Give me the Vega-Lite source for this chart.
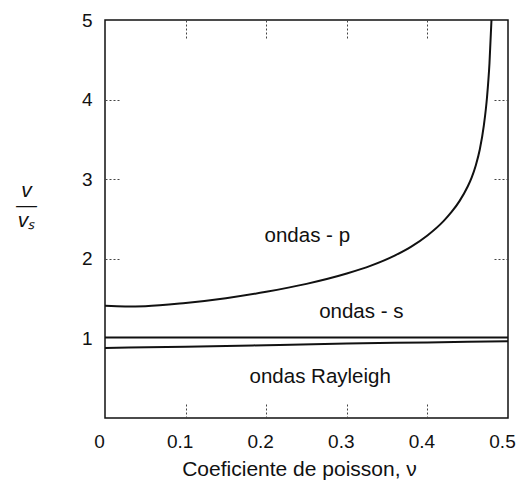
{
  "$schema": "https://vega.github.io/schema/vega-lite/v6.json",
  "width": 403,
  "height": 398,
  "autosize": {"type": "none"},
  "padding": {"left": 105, "top": 20, "right": 12, "bottom": 62},
  "config": {
    "font": "Liberation Sans",
    "view": {"stroke": "#111", "strokeWidth": 1.5},
    "axis": {"domain": false, "grid": false, "labelColor": "#111", "titleColor": "#111", "titleFontWeight": "normal", "tickColor": "#444", "tickDash": [2, 2], "tickWidth": 1, "labelFlush": false}
  },
  "datasets": {
    "curves": [
      {"nu": 0.0, "r": 1.41, "wave": "p"},
      {"nu": 0.025, "r": 1.402, "wave": "p"},
      {"nu": 0.05, "r": 1.405, "wave": "p"},
      {"nu": 0.1, "r": 1.445, "wave": "p"},
      {"nu": 0.15, "r": 1.505, "wave": "p"},
      {"nu": 0.2, "r": 1.585, "wave": "p"},
      {"nu": 0.25, "r": 1.685, "wave": "p"},
      {"nu": 0.3, "r": 1.815, "wave": "p"},
      {"nu": 0.33, "r": 1.914, "wave": "p"},
      {"nu": 0.36, "r": 2.043, "wave": "p"},
      {"nu": 0.38, "r": 2.153, "wave": "p"},
      {"nu": 0.4, "r": 2.293, "wave": "p"},
      {"nu": 0.42, "r": 2.473, "wave": "p"},
      {"nu": 0.43, "r": 2.588, "wave": "p"},
      {"nu": 0.44, "r": 2.728, "wave": "p"},
      {"nu": 0.45, "r": 2.908, "wave": "p"},
      {"nu": 0.455, "r": 3.023, "wave": "p"},
      {"nu": 0.46, "r": 3.173, "wave": "p"},
      {"nu": 0.465, "r": 3.373, "wave": "p"},
      {"nu": 0.47, "r": 3.673, "wave": "p"},
      {"nu": 0.474, "r": 4.033, "wave": "p"},
      {"nu": 0.477, "r": 4.453, "wave": "p"},
      {"nu": 0.4795, "r": 5.0, "wave": "p"},
      {"nu": 0.0, "r": 1.01, "wave": "s"},
      {"nu": 0.5, "r": 1.01, "wave": "s"},
      {"nu": 0.0, "r": 0.88, "wave": "R"},
      {"nu": 0.1, "r": 0.895, "wave": "R"},
      {"nu": 0.2, "r": 0.915, "wave": "R"},
      {"nu": 0.3, "r": 0.935, "wave": "R"},
      {"nu": 0.4, "r": 0.95, "wave": "R"},
      {"nu": 0.5, "r": 0.965, "wave": "R"}
    ],
    "labels": [
      {"nu": 0.251, "r": 2.29, "text": "ondas - p"},
      {"nu": 0.318, "r": 1.33, "text": "ondas - s"},
      {"nu": 0.267, "r": 0.515, "text": "ondas Rayleigh"}
    ]
  },
  "layer": [
    {
      "data": {"name": "curves"},
      "mark": {"type": "line", "color": "#111", "strokeWidth": 2, "clip": true, "interpolate": "monotone"},
      "encoding": {
        "x": {
          "field": "nu", "type": "quantitative",
          "scale": {"domain": [0, 0.5], "nice": false},
          "axis": {
            "orient": "bottom", "values": [0, 0.1, 0.2, 0.3, 0.4, 0.5], "format": "~g",
            "labelFontSize": 19, "labelOffset": -6,
            "tickSize": -14, "labelPadding": 28,
            "tickOpacity": {"condition": {"test": "datum.value == 0 || datum.value == 0.5", "value": 0}, "value": 1},
            "title": "Coeficiente de poisson, ν", "titleFontSize": 21, "titlePadding": 7, "titleX": 194
          }
        },
        "y": {
          "field": "r", "type": "quantitative",
          "scale": {"domain": [0, 5], "nice": false},
          "axis": {
            "orient": "left", "values": [0, 1, 2, 3, 4, 5], "format": "d",
            "labelExpr": "datum.value == 0 ? '' : datum.label",
            "labelFontSize": 19, "tickSize": -16, "labelPadding": 29,
            "tickOpacity": {"condition": {"test": "datum.value == 0 || datum.value == 1 || datum.value == 5", "value": 0}, "value": 1},
            "title": ["v", "—", "vₛ"], "titleFontSize": 21, "titleFontStyle": "italic", "titleLineHeight": 15,
            "titleAngle": 0, "titleAlign": "center", "titleBaseline": "middle", "titleX": -79, "titleY": 170
          }
        },
        "detail": {"field": "wave"}
      }
    },
    {
      "data": {"name": "labels"},
      "mark": {"type": "text", "fontSize": 20.5, "color": "#111", "align": "center", "baseline": "middle"},
      "encoding": {
        "x": {
          "field": "nu", "type": "quantitative",
          "axis": {
            "orient": "top", "values": [0.1, 0.2, 0.3, 0.4], "labels": false, "title": null, "tickSize": -18
          }
        },
        "y": {
          "field": "r", "type": "quantitative",
          "axis": {
            "orient": "right", "values": [2, 3, 4], "labels": false, "title": null, "tickSize": -15
          }
        },
        "text": {"field": "text"}
      }
    }
  ],
  "resolve": {"axis": {"x": "independent", "y": "independent"}}
}
